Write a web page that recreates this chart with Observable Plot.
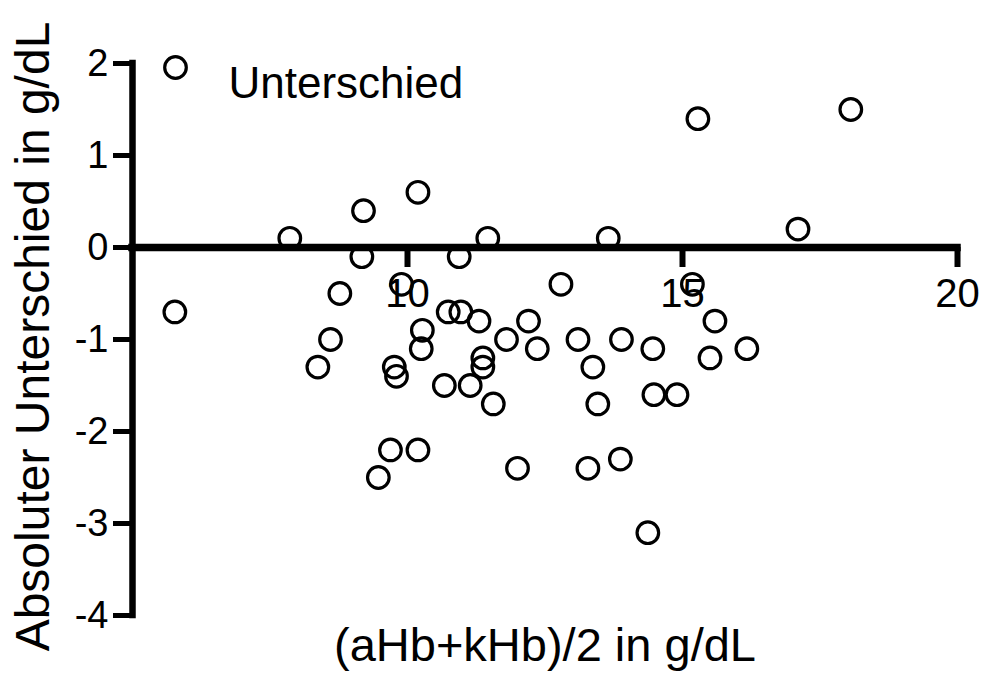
<!DOCTYPE html>
<html>
<head>
<meta charset="utf-8">
<script src="https://cdn.jsdelivr.net/npm/d3@7"></script>
<script src="https://cdn.jsdelivr.net/npm/@observablehq/plot@0.6"></script>
<style>
  html, body { margin: 0; padding: 0; background: #fff; }
  #chart svg { display: block; }
</style>
</head>
<body>
<div id="chart"></div>
<script>
// Mean of aHb and kHb (g/dL)
const meanHb = [5.77, 7.86, 8.37, 8.60, 8.77, 9.20, 9.17, 9.47, 9.69, 9.89,
                9.76, 9.80, 10.19, 10.19, 10.27, 10.25, 10.67, 10.74, 10.97, 10.94,
                11.14, 11.30, 11.37, 11.37, 11.46, 11.56, 11.80, 12.00, 12.20, 12.36,
                12.79, 13.10, 13.28, 13.37, 13.46, 13.65, 13.87, 13.89, 14.37, 14.46,
                14.48, 14.90, 15.18, 15.28, 15.50, 15.59, 16.17, 17.10, 18.06];
// Absolute difference (g/dL)
const diffHb = [-0.7, 0.1, -1.3, -1.0, -0.5, 0.4, -0.1, -2.5, -2.2, -0.4,
                -1.3, -1.4, 0.6, -2.2, -0.9, -1.1, -1.5, -0.7, -0.7, -0.1,
                -1.5, -0.8, -1.2, -1.3, 0.1, -1.7, -1.0, -2.4, -0.8, -1.1,
                -0.4, -1.0, -2.4, -1.3, -1.7, 0.1, -2.3, -1.0, -3.1, -1.1,
                -1.6, -1.6, -0.4, 1.4, -1.2, -0.8, -1.1, 0.2, 1.5];
const xDomain = [5, 20];
const yDomain = [-4, 2];
const xTicks = [10, 15, 20];
const yTicks = [-4, -3, -2, -1, 0, 1, 2];
const seriesName = "Unterschied";
const xLabel = "(aHb+kHb)/2 in g/dL";
const yLabel = "Absoluter Unterschied in g/dL";

const points = meanHb.map((x, i) => ({x, y: diffHb[i]}));
const font = "'Liberation Sans', Arial, Helvetica, sans-serif";

const chart = Plot.plot({
  width: 983,
  height: 686,
  marginLeft: 132,
  marginRight: 26,
  marginTop: 63,
  marginBottom: 71,
  style: {fontFamily: font, background: "#fff", color: "#000", overflow: "visible"},
  x: {domain: xDomain, axis: null},
  y: {domain: yDomain, axis: null},
  marks: [
    // horizontal axis through y = 0
    Plot.ruleY([0], {stroke: "#000", strokeWidth: 7.5, strokeLinecap: "square"}),
    Plot.ruleX(xTicks, {x: d => d, y1: 0, y2: 0, insetBottom: -20, stroke: "#000", strokeWidth: 6}),
    Plot.text(xTicks, {x: d => d, y: 0, dy: 47, text: d => String(d), fontSize: 40, fill: "#000"}),
    // vertical axis
    Plot.ruleX([xDomain[0]], {y1: yDomain[0], y2: yDomain[1], stroke: "#000", strokeWidth: 6.5, strokeLinecap: "square"}),
    Plot.axisY({ticks: yTicks, tickSize: 19, tickPadding: 5, strokeWidth: 5, fontSize: 38,
                tickFormat: d => String(d), label: null, color: "#000"}),
    // data
    Plot.dot(points, {x: "x", y: "y", r: 10.8, stroke: "#000", strokeWidth: 3.2, fill: "none"}),
    // legend
    Plot.dot([seriesName], {frameAnchor: "top-left", dx: 43, dy: 4, r: 10.8, stroke: "#000", strokeWidth: 3.2, fill: "none"}),
    Plot.text([seriesName], {frameAnchor: "top-left", dx: 96, dy: 3, text: d => d, textAnchor: "start", fontSize: 44, fill: "#000"}),
    // axis titles
    Plot.text([xLabel], {frameAnchor: "bottom", dy: 45, text: d => d, textAnchor: "middle", fontSize: 47, fill: "#000"}),
    Plot.text([yLabel], {frameAnchor: "left", dx: -99, dy: -3, rotate: -90, text: d => d, textAnchor: "middle", fontSize: 48, fill: "#000"})
  ]
});
document.getElementById("chart").appendChild(chart);
</script>
</body>
</html>
